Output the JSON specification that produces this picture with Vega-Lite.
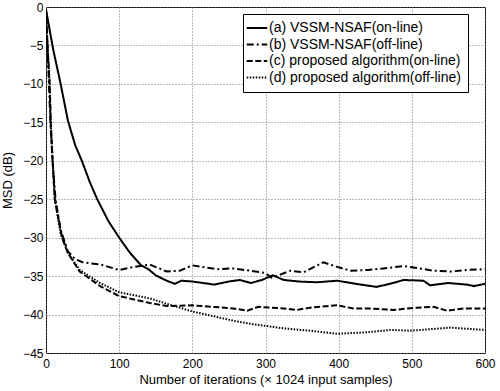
{
  "$schema": "https://vega.github.io/schema/vega-lite/v6.json",
  "width": 439,
  "height": 346,
  "autosize": {"type": "none"},
  "padding": {"left": 46, "top": 7, "right": 15, "bottom": 38},
  "background": "white",
  "config": {
    "font": "Liberation Sans",
    "view": {"stroke": "black", "strokeWidth": 1},
    "axis": {
      "labelFont": "Liberation Sans",
      "labelFontSize": 12,
      "labelColor": "black",
      "titleFont": "Liberation Sans",
      "titleFontSize": 13,
      "titleFontWeight": "normal",
      "titleColor": "black",
      "domain": false,
      "ticks": false,
      "gridColor": "#777",
      "gridDash": [1, 2],
      "gridWidth": 1
    }
  },
  "data": {
    "values": [
      {"series": "(a) VSSM-NSAF(on-line)", "iteration": 0, "msd": -0.3},
      {"series": "(a) VSSM-NSAF(on-line)", "iteration": 5, "msd": -3},
      {"series": "(a) VSSM-NSAF(on-line)", "iteration": 10, "msd": -5.6},
      {"series": "(a) VSSM-NSAF(on-line)", "iteration": 20, "msd": -10},
      {"series": "(a) VSSM-NSAF(on-line)", "iteration": 30, "msd": -14.8},
      {"series": "(a) VSSM-NSAF(on-line)", "iteration": 40, "msd": -18},
      {"series": "(a) VSSM-NSAF(on-line)", "iteration": 49, "msd": -20},
      {"series": "(a) VSSM-NSAF(on-line)", "iteration": 60, "msd": -22.8},
      {"series": "(a) VSSM-NSAF(on-line)", "iteration": 70, "msd": -25},
      {"series": "(a) VSSM-NSAF(on-line)", "iteration": 85, "msd": -27.8},
      {"series": "(a) VSSM-NSAF(on-line)", "iteration": 100, "msd": -30},
      {"series": "(a) VSSM-NSAF(on-line)", "iteration": 115, "msd": -32},
      {"series": "(a) VSSM-NSAF(on-line)", "iteration": 130, "msd": -33.6},
      {"series": "(a) VSSM-NSAF(on-line)", "iteration": 140, "msd": -34.1},
      {"series": "(a) VSSM-NSAF(on-line)", "iteration": 150, "msd": -34.9},
      {"series": "(a) VSSM-NSAF(on-line)", "iteration": 165, "msd": -35.6},
      {"series": "(a) VSSM-NSAF(on-line)", "iteration": 176, "msd": -36},
      {"series": "(a) VSSM-NSAF(on-line)", "iteration": 185, "msd": -35.6},
      {"series": "(a) VSSM-NSAF(on-line)", "iteration": 200, "msd": -35.7},
      {"series": "(a) VSSM-NSAF(on-line)", "iteration": 230, "msd": -36.1},
      {"series": "(a) VSSM-NSAF(on-line)", "iteration": 250, "msd": -35.7},
      {"series": "(a) VSSM-NSAF(on-line)", "iteration": 265, "msd": -35.5},
      {"series": "(a) VSSM-NSAF(on-line)", "iteration": 280, "msd": -35.9},
      {"series": "(a) VSSM-NSAF(on-line)", "iteration": 295, "msd": -35.5},
      {"series": "(a) VSSM-NSAF(on-line)", "iteration": 310, "msd": -34.9},
      {"series": "(a) VSSM-NSAF(on-line)", "iteration": 325, "msd": -35.5},
      {"series": "(a) VSSM-NSAF(on-line)", "iteration": 345, "msd": -35.7},
      {"series": "(a) VSSM-NSAF(on-line)", "iteration": 370, "msd": -35.8},
      {"series": "(a) VSSM-NSAF(on-line)", "iteration": 398, "msd": -35.6},
      {"series": "(a) VSSM-NSAF(on-line)", "iteration": 430, "msd": -36.1},
      {"series": "(a) VSSM-NSAF(on-line)", "iteration": 452, "msd": -36.4},
      {"series": "(a) VSSM-NSAF(on-line)", "iteration": 470, "msd": -36},
      {"series": "(a) VSSM-NSAF(on-line)", "iteration": 489, "msd": -35.5},
      {"series": "(a) VSSM-NSAF(on-line)", "iteration": 516, "msd": -35.6},
      {"series": "(a) VSSM-NSAF(on-line)", "iteration": 525, "msd": -36.2},
      {"series": "(a) VSSM-NSAF(on-line)", "iteration": 550, "msd": -35.9},
      {"series": "(a) VSSM-NSAF(on-line)", "iteration": 575, "msd": -36.1},
      {"series": "(a) VSSM-NSAF(on-line)", "iteration": 585, "msd": -36.3},
      {"series": "(a) VSSM-NSAF(on-line)", "iteration": 600, "msd": -36},
      {"series": "(b) VSSM-NSAF(off-line)", "iteration": 0, "msd": -0.5},
      {"series": "(b) VSSM-NSAF(off-line)", "iteration": 2, "msd": -5},
      {"series": "(b) VSSM-NSAF(off-line)", "iteration": 4, "msd": -10},
      {"series": "(b) VSSM-NSAF(off-line)", "iteration": 6, "msd": -15},
      {"series": "(b) VSSM-NSAF(off-line)", "iteration": 9, "msd": -20},
      {"series": "(b) VSSM-NSAF(off-line)", "iteration": 13, "msd": -25},
      {"series": "(b) VSSM-NSAF(off-line)", "iteration": 20, "msd": -29},
      {"series": "(b) VSSM-NSAF(off-line)", "iteration": 30, "msd": -31.8},
      {"series": "(b) VSSM-NSAF(off-line)", "iteration": 40, "msd": -32.8},
      {"series": "(b) VSSM-NSAF(off-line)", "iteration": 50, "msd": -33.2},
      {"series": "(b) VSSM-NSAF(off-line)", "iteration": 75, "msd": -33.5},
      {"series": "(b) VSSM-NSAF(off-line)", "iteration": 100, "msd": -34.2},
      {"series": "(b) VSSM-NSAF(off-line)", "iteration": 120, "msd": -33.8},
      {"series": "(b) VSSM-NSAF(off-line)", "iteration": 142, "msd": -33.5},
      {"series": "(b) VSSM-NSAF(off-line)", "iteration": 165, "msd": -34.4},
      {"series": "(b) VSSM-NSAF(off-line)", "iteration": 183, "msd": -34.3},
      {"series": "(b) VSSM-NSAF(off-line)", "iteration": 200, "msd": -33.6},
      {"series": "(b) VSSM-NSAF(off-line)", "iteration": 233, "msd": -34.1},
      {"series": "(b) VSSM-NSAF(off-line)", "iteration": 256, "msd": -34},
      {"series": "(b) VSSM-NSAF(off-line)", "iteration": 279, "msd": -34.3},
      {"series": "(b) VSSM-NSAF(off-line)", "iteration": 300, "msd": -34.6},
      {"series": "(b) VSSM-NSAF(off-line)", "iteration": 308, "msd": -35.2},
      {"series": "(b) VSSM-NSAF(off-line)", "iteration": 320, "msd": -34.8},
      {"series": "(b) VSSM-NSAF(off-line)", "iteration": 334, "msd": -34.3},
      {"series": "(b) VSSM-NSAF(off-line)", "iteration": 352, "msd": -34.5},
      {"series": "(b) VSSM-NSAF(off-line)", "iteration": 379, "msd": -33.2},
      {"series": "(b) VSSM-NSAF(off-line)", "iteration": 398, "msd": -33.8},
      {"series": "(b) VSSM-NSAF(off-line)", "iteration": 416, "msd": -34.3},
      {"series": "(b) VSSM-NSAF(off-line)", "iteration": 440, "msd": -34.2},
      {"series": "(b) VSSM-NSAF(off-line)", "iteration": 461, "msd": -34},
      {"series": "(b) VSSM-NSAF(off-line)", "iteration": 489, "msd": -33.7},
      {"series": "(b) VSSM-NSAF(off-line)", "iteration": 510, "msd": -34},
      {"series": "(b) VSSM-NSAF(off-line)", "iteration": 530, "msd": -34.3},
      {"series": "(b) VSSM-NSAF(off-line)", "iteration": 553, "msd": -34.4},
      {"series": "(b) VSSM-NSAF(off-line)", "iteration": 576, "msd": -34.2},
      {"series": "(b) VSSM-NSAF(off-line)", "iteration": 600, "msd": -34.1},
      {"series": "(c) proposed algorithm(on-line)", "iteration": 0, "msd": -0.5},
      {"series": "(c) proposed algorithm(on-line)", "iteration": 2, "msd": -5},
      {"series": "(c) proposed algorithm(on-line)", "iteration": 5, "msd": -10},
      {"series": "(c) proposed algorithm(on-line)", "iteration": 6.5, "msd": -15},
      {"series": "(c) proposed algorithm(on-line)", "iteration": 9, "msd": -20},
      {"series": "(c) proposed algorithm(on-line)", "iteration": 12, "msd": -25},
      {"series": "(c) proposed algorithm(on-line)", "iteration": 22, "msd": -30},
      {"series": "(c) proposed algorithm(on-line)", "iteration": 30, "msd": -32},
      {"series": "(c) proposed algorithm(on-line)", "iteration": 46, "msd": -34.4},
      {"series": "(c) proposed algorithm(on-line)", "iteration": 74, "msd": -36.3},
      {"series": "(c) proposed algorithm(on-line)", "iteration": 100, "msd": -37.6},
      {"series": "(c) proposed algorithm(on-line)", "iteration": 142, "msd": -38.5},
      {"series": "(c) proposed algorithm(on-line)", "iteration": 165, "msd": -38.9},
      {"series": "(c) proposed algorithm(on-line)", "iteration": 200, "msd": -38.8},
      {"series": "(c) proposed algorithm(on-line)", "iteration": 256, "msd": -39.2},
      {"series": "(c) proposed algorithm(on-line)", "iteration": 275, "msd": -39.5},
      {"series": "(c) proposed algorithm(on-line)", "iteration": 290, "msd": -39},
      {"series": "(c) proposed algorithm(on-line)", "iteration": 325, "msd": -39.2},
      {"series": "(c) proposed algorithm(on-line)", "iteration": 343, "msd": -39.4},
      {"series": "(c) proposed algorithm(on-line)", "iteration": 361, "msd": -39.1},
      {"series": "(c) proposed algorithm(on-line)", "iteration": 398, "msd": -38.8},
      {"series": "(c) proposed algorithm(on-line)", "iteration": 420, "msd": -39.2},
      {"series": "(c) proposed algorithm(on-line)", "iteration": 439, "msd": -39.2},
      {"series": "(c) proposed algorithm(on-line)", "iteration": 475, "msd": -39.4},
      {"series": "(c) proposed algorithm(on-line)", "iteration": 507, "msd": -39.1},
      {"series": "(c) proposed algorithm(on-line)", "iteration": 530, "msd": -39},
      {"series": "(c) proposed algorithm(on-line)", "iteration": 548, "msd": -39.5},
      {"series": "(c) proposed algorithm(on-line)", "iteration": 571, "msd": -39.2},
      {"series": "(c) proposed algorithm(on-line)", "iteration": 600, "msd": -39.2},
      {"series": "(d) proposed algorithm(off-line)", "iteration": 0, "msd": -0.5},
      {"series": "(d) proposed algorithm(off-line)", "iteration": 2, "msd": -5},
      {"series": "(d) proposed algorithm(off-line)", "iteration": 5, "msd": -10},
      {"series": "(d) proposed algorithm(off-line)", "iteration": 6.5, "msd": -15},
      {"series": "(d) proposed algorithm(off-line)", "iteration": 9, "msd": -20},
      {"series": "(d) proposed algorithm(off-line)", "iteration": 12, "msd": -25},
      {"series": "(d) proposed algorithm(off-line)", "iteration": 20, "msd": -29.5},
      {"series": "(d) proposed algorithm(off-line)", "iteration": 30, "msd": -32},
      {"series": "(d) proposed algorithm(off-line)", "iteration": 46, "msd": -34.2},
      {"series": "(d) proposed algorithm(off-line)", "iteration": 74, "msd": -35.9},
      {"series": "(d) proposed algorithm(off-line)", "iteration": 100, "msd": -37.1},
      {"series": "(d) proposed algorithm(off-line)", "iteration": 142, "msd": -37.9},
      {"series": "(d) proposed algorithm(off-line)", "iteration": 165, "msd": -38.6},
      {"series": "(d) proposed algorithm(off-line)", "iteration": 200, "msd": -39.6},
      {"series": "(d) proposed algorithm(off-line)", "iteration": 256, "msd": -40.8},
      {"series": "(d) proposed algorithm(off-line)", "iteration": 279, "msd": -41.2},
      {"series": "(d) proposed algorithm(off-line)", "iteration": 325, "msd": -41.8},
      {"series": "(d) proposed algorithm(off-line)", "iteration": 361, "msd": -42.1},
      {"series": "(d) proposed algorithm(off-line)", "iteration": 398, "msd": -42.5},
      {"series": "(d) proposed algorithm(off-line)", "iteration": 439, "msd": -42.3},
      {"series": "(d) proposed algorithm(off-line)", "iteration": 471, "msd": -42},
      {"series": "(d) proposed algorithm(off-line)", "iteration": 498, "msd": -42.1},
      {"series": "(d) proposed algorithm(off-line)", "iteration": 553, "msd": -41.7},
      {"series": "(d) proposed algorithm(off-line)", "iteration": 600, "msd": -42}
    ]
  },
  "mark": {"type": "line", "color": "black", "strokeWidth": 2, "clip": true},
  "encoding": {
    "x": {
      "field": "iteration",
      "type": "quantitative",
      "scale": {"domain": [0, 600], "nice": false},
      "axis": {"values": [0, 100, 200, 300, 400, 500, 600], "labelPadding": 5, "title": "Number of iterations (× 1024 input samples)", "titlePadding": 4, "labelFlush": false}
    },
    "y": {
      "field": "msd",
      "type": "quantitative",
      "scale": {"domain": [-45, 0], "nice": false, "zero": false},
      "axis": {"values": [-45, -40, -35, -30, -25, -20, -15, -10, -5, 0], "labelPadding": 3, "title": "MSD (dB)", "titlePadding": 8, "labelFlush": false}
    },
    "strokeDash": {
      "field": "series",
      "type": "nominal",
      "scale": {
        "domain": ["(a) VSSM-NSAF(on-line)", "(b) VSSM-NSAF(off-line)", "(c) proposed algorithm(on-line)", "(d) proposed algorithm(off-line)"],
        "range": [[1, 0], [7, 3, 2, 3], [6, 2.5], [1.5, 1.5]]
      },
      "legend": {
        "title": null,
        "orient": "none",
        "legendX": 197,
        "legendY": 7,
        "fillColor": "white",
        "strokeColor": "black",
        "padding": 7,
        "symbolType": "M-2,0H2",
        "symbolSize": 105,
        "symbolStrokeWidth": 2,
        "symbolStrokeColor": "black",
        "labelFont": "Liberation Sans",
        "labelFontSize": 14,
        "labelColor": "black",
        "labelOffset": 5,
        "labelLimit": 300,
        "rowPadding": 2.5
      }
    }
  }
}
